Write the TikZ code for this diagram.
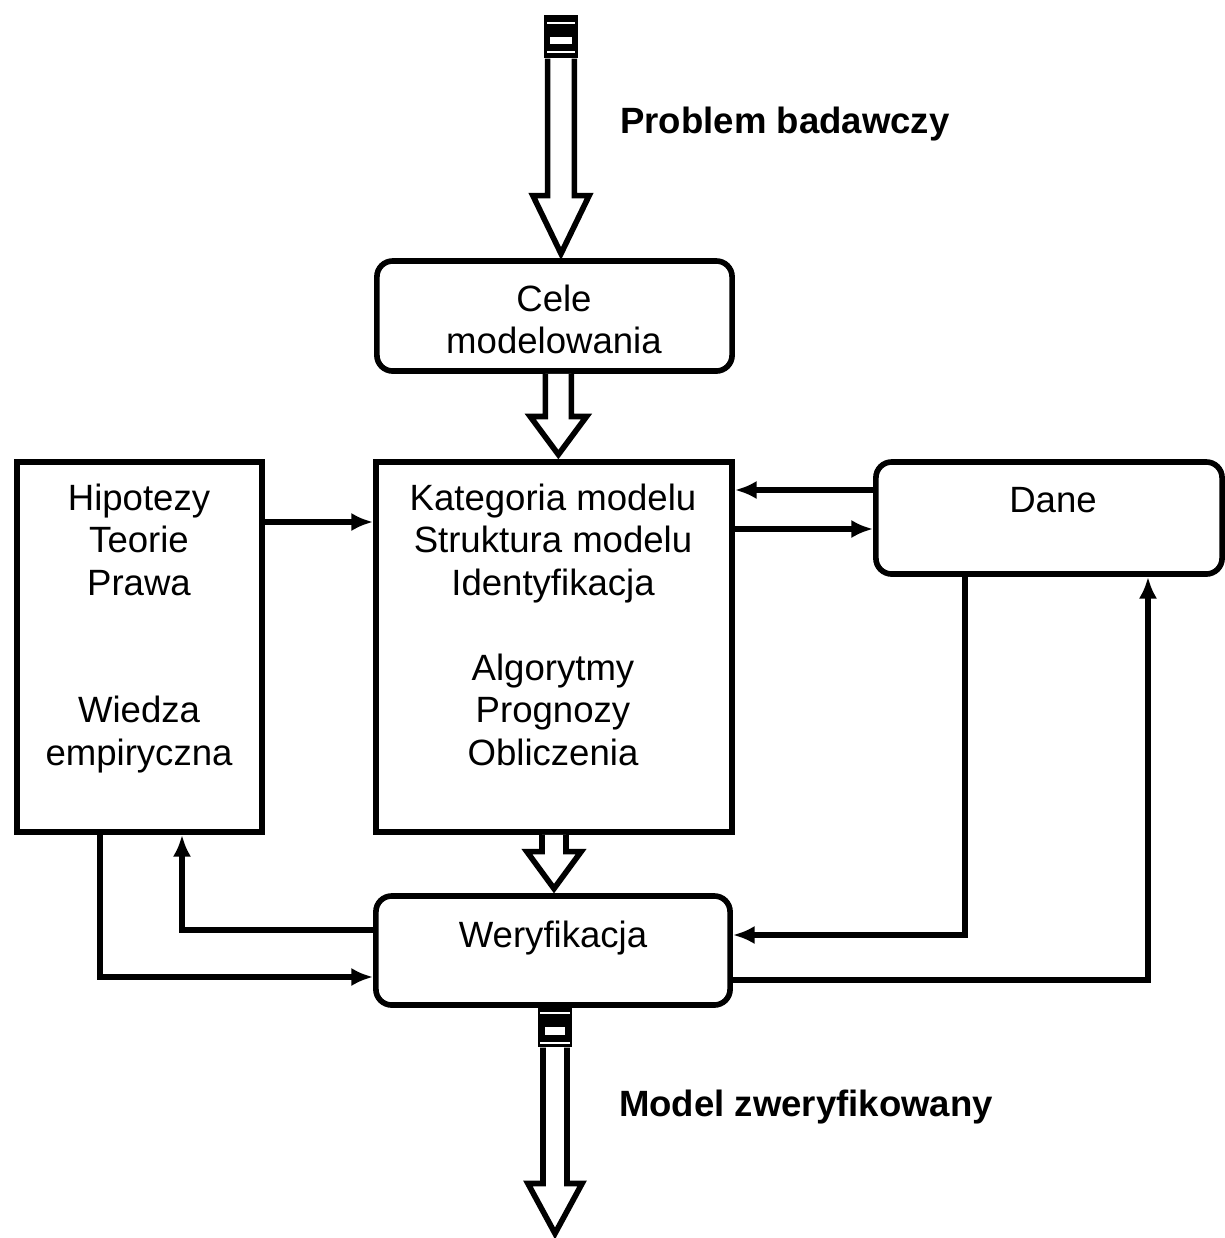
\documentclass[tikz,border=0pt]{standalone}
\usepackage{fontspec}
\setmainfont{Liberation Sans}
\usetikzlibrary{arrows.meta}
\usetikzlibrary{calc}
\tikzset{
	box/.style={draw,line width=1.6pt,inner sep=0pt},
	round box/.style={box,rounded corners=4.5pt},
	label text/.style={font=\fontsize{10.4}{12.1}\selectfont,align=center,inner sep=0pt,anchor=north},
	title text/.style={label text,font=\fontsize{10.4}{12.1}\selectfont\bfseries},
	link/.style={-{Latex[length=6.2pt,width=5.2pt]},line width=1.5pt},
	hollow/.style={draw,line width=1.6pt,miter limit=10,fill=white},
	stripe cap/.style={fill=black,inner sep=0pt}
}
% from, to, head length, shaft half width, head half width
\newcommand{\hollowarrow}[5]{%
	\draw[hollow] let \p1=(#1), \p2=([yshift=1.3pt]#2) in
		(\x1-#4,\y1) -- (\x1-#4,\y2+#3) -- (\x1-#5,\y2+#3) -- (\x1,\y2)
		-- (\x1+#5,\y2+#3) -- (\x1+#4,\y2+#3) -- (\x1+#4,\y1);
}

\begin{document}
\begin{tikzpicture}[x=0.01cm,y=-0.01cm]
	\useasboundingbox (0,0) rectangle (1225,1238);
	% boxes
	\node[round box,minimum width=3.55cm,minimum height=1.10cm] (cele) at (554.5,316) {};
	\node[box,minimum width=2.45cm,minimum height=3.70cm] (hip) at (139.5,647) {};
	\node[box,minimum width=3.56cm,minimum height=3.70cm] (central) at (554,647) {};
	\node[round box,minimum width=3.46cm,minimum height=1.12cm] (dane) at (1049,518) {};
	\node[round box,minimum width=3.54cm,minimum height=1.09cm] (wer) at (553,950.5) {};
	% texts
	\node[title text] (problem) at (785,106) {Problem badawczy};
	\node[label text] (celetext) at (554,284) {Cele\\modelowania};
	\node[label text] (centraltext) at (553,483) {Kategoria modelu\\Struktura modelu\\Identyfikacja\\[12.1pt]Algorytmy\\Prognozy\\Obliczenia};
	\node[label text] (hiptext) at (139,483) {Hipotezy\\Teorie\\Prawa\\[24.2pt]Wiedza\\empiryczna};
	\node[label text] (danetext) at (1053,487) {Dane};
	\node[label text] (wertext) at (553,920) {Weryfikacja};
	\node[title text] (model) at (806,1089) {Model zweryfikowany};
	% wide arrows
	\node[stripe cap,minimum width=0.33cm,minimum height=0.43cm] (topcap) at (561,36.5) {};
	\fill[white] (550,37) rectangle (572,44);
	\draw[white,line width=0.4pt] (547,23) -- (575,23);
	\draw[white,line width=0.6pt] (547,52) -- (575,52);
	\hollowarrow{topcap.south}{cele.north}{16.5pt}{3.8pt}{8pt}
	\hollowarrow{[xshift=1.1pt]cele.south}{central.north}{10.8pt}{3.7pt}{8pt}
	\hollowarrow{central.south}{wer.north}{10.5pt}{3.4pt}{7.7pt}
	\node[stripe cap,minimum width=0.34cm,minimum height=0.39cm] (botcap) at (555,1027.5) {};
	\fill[white] (545,1027) rectangle (565,1035);
	\draw[white,line width=0.4pt] (540,1013) -- (570,1013);
	\draw[white,line width=0.6pt] (540,1043) -- (570,1043);
	\coordinate (outend) at (555,1238);
	\hollowarrow{botcap.south}{outend}{14.2pt}{3.4pt}{7.7pt}
	% links
	\draw[link] (hip.east |- 0,522) -- (central.west |- 0,522);
	\draw[link] (dane.west |- 0,490) -- (central.east |- 0,490);
	\draw[link] (central.east |- 0,529) -- (dane.west |- 0,529);
	\draw[link] (dane.south -| 965,0) |- (wer.east |- 0,935);
	\draw[link] (wer.east |- 0,980) -| (dane.south -| 1148,0);
	\draw[link] (wer.west |- 0,930) -| (hip.south -| 182,0);
	\draw[link] (hip.south -| 100,0) |- (wer.west |- 0,977);
\end{tikzpicture}
\end{document}
